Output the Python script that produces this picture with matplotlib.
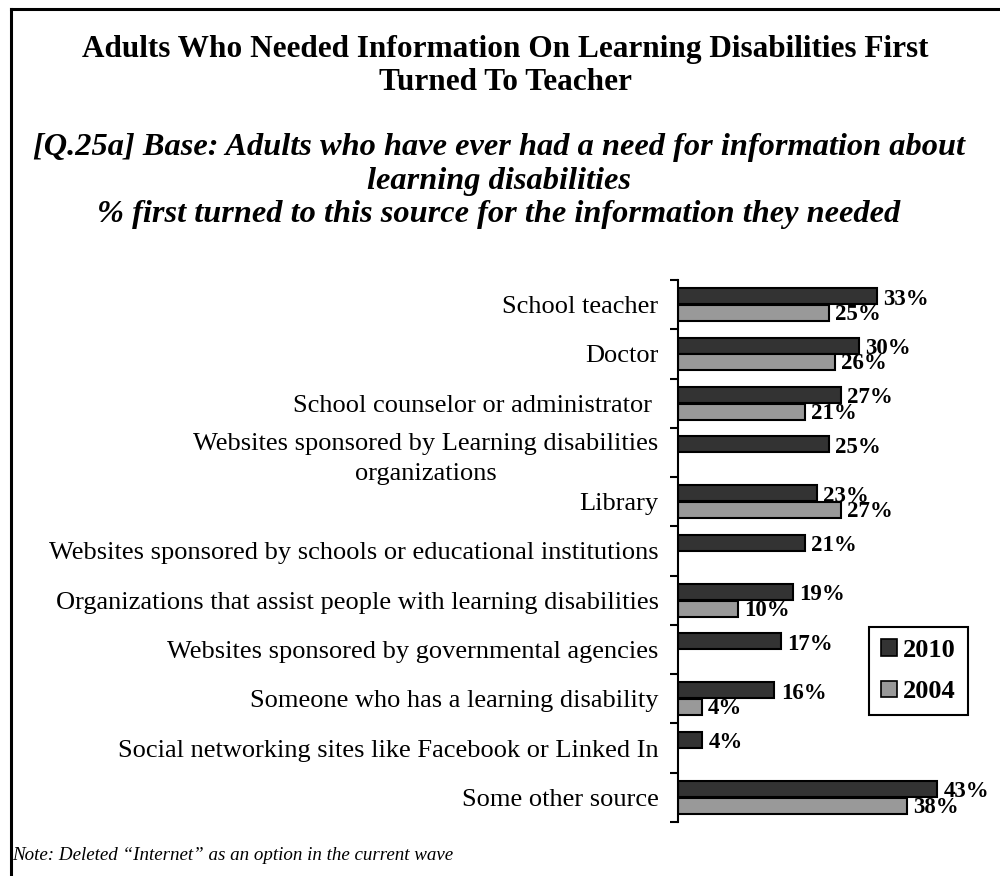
import matplotlib.pyplot as plt
import numpy as np
from matplotlib.patches import Patch
from matplotlib.lines import Line2D

plt.rcParams['font.family'] = ['Liberation Serif', 'DejaVu Serif']

# survey sources, in the order shown top to bottom
sources = [
    "School teacher",
    "Doctor",
    "School counselor or administrator ",
    "Websites sponsored by Learning disabilities\norganizations",
    "Library",
    "Websites sponsored by schools or educational institutions",
    "Organizations that assist people with learning disabilities",
    "Websites sponsored by governmental agencies",
    "Someone who has a learning disability",
    "Social networking sites like Facebook or Linked In",
    "Some other source",
]
pct_2010 = [33, 30, 27, 25, 23, 21, 19, 17, 16, 4, 43]
# None = option not asked in the 2004 wave
pct_2004 = [25, 26, 21, None, 27, None, 10, None, 4, None, 38]

title = ("Adults Who Needed Information On Learning Disabilities First\n"
         "Turned To Teacher")
subtitle = ("[Q.25a] Base: Adults who have ever had a need for information about\n"
            "learning disabilities\n"
            "% first turned to this source for the information they needed")
note = "Note: Deleted \u201cInternet\u201d as an option in the current wave"

DARK = "#333333"
LIGHT = "#999999"
bar_h = 0.325
off = 0.17

fig = plt.figure(figsize=(10, 8.76), dpi=100)
ax = fig.add_axes([0.678, 1 - 822 / 876, 0.3015, 542 / 876])

y = np.arange(len(sources))

for i, v in enumerate(pct_2010):
    ax.barh(i - off, v, height=bar_h, color=DARK, edgecolor="black", linewidth=1.5)
    ax.text(v + 1.1, i - off + 0.06, f"{v}%", va="center", ha="left",
            fontsize=16.5, fontweight="bold")
for i, v in enumerate(pct_2004):
    if v is None:
        continue
    ax.barh(i + off, v, height=bar_h, color=LIGHT, edgecolor="black", linewidth=1.5)
    ax.text(v + 1.0, i + off + 0.03, f"{v}%", va="center", ha="left",
            fontsize=16.5, fontweight="bold")

ax.set_xlim(0, 50)
ax.set_ylim(len(sources) - 0.5, -0.5)
ax.set_xticks([])
ax.set_yticks(y)
ax.set_yticklabels(sources, fontsize=19, ha="right", ma="center",
                   linespacing=1.5)
ax.set_yticks(np.arange(-0.5, len(sources)), minor=True)
ax.tick_params(axis="y", which="major", length=0, pad=14)
ax.tick_params(axis="y", which="minor", length=6, width=1.5, direction="out")
for s in ["top", "right", "bottom"]:
    ax.spines[s].set_visible(False)
ax.spines["left"].set_linewidth(1.5)

handles = [Patch(facecolor=DARK, edgecolor="black", linewidth=1.2, label="2010"),
           Patch(facecolor=LIGHT, edgecolor="black", linewidth=1.2, label="2004")]
leg = fig.legend(handles=handles, loc="upper right",
                 bbox_to_anchor=(0.968, 1 - 627 / 876),
                 prop={"size": 19, "weight": "bold"},
                 handlelength=0.6, handleheight=0.6, handletextpad=0.25,
                 labelspacing=0.7, borderpad=0.45, borderaxespad=0,
                 fancybox=False, edgecolor="black", framealpha=1)
leg.get_frame().set_linewidth(1.5)

fig.text(0.505, 1 - 66 / 876, title, ha="center", va="center",
         fontsize=22.5, fontweight="bold", linespacing=1.2)
fig.text(0.499, 1 - 181 / 876, subtitle, ha="center", va="center",
         fontsize=23.3, fontweight="bold", fontstyle="italic", linespacing=1.22)
fig.text(0.012, 1 - 855 / 876, note, ha="left", va="center",
         fontsize=13.7, fontstyle="italic")

# outer frame (top and left edges only reach into view)
top = 1 - 9 / 876
fig.add_artist(Line2D([0.011, 1.0], [top, top], color="black", linewidth=2.2,
                      transform=fig.transFigure))
fig.add_artist(Line2D([0.011, 0.011], [0.0, top], color="black", linewidth=2.2,
                      transform=fig.transFigure))

fig.savefig("out.png", dpi=100)
